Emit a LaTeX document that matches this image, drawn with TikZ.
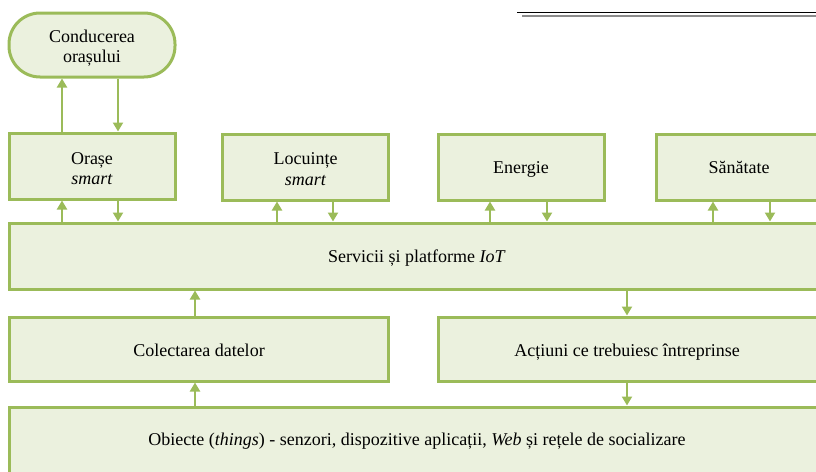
\documentclass[tikz,border=0pt]{standalone}
\usepackage{fontspec}
\setmainfont{Liberation Serif}
\usetikzlibrary{arrows.meta,calc}
\definecolor{boxfill}{HTML}{EBF1DE}
\definecolor{boxline}{HTML}{9BBB59}
\definecolor{rulegray}{HTML}{8C8C8C}
\tikzset{
  box/.style={draw=boxline, fill=boxfill, line width=3pt, inner sep=0pt},
  lbl/.style={inner sep=0pt, align=center, font=\fontsize{18}{20.5}\selectfont},
  arr/.style={draw=boxline, line width=2.2pt, -{Triangle[width=10pt,length=9pt]}},
}
\begin{document}
\begin{tikzpicture}[x=1pt,y=-1pt]
\useasboundingbox (0,0) rectangle (816,471);
\clip (0,0) rectangle (816,471);
% top-right rule
\coordinate (r1a) at (517,12); \coordinate (r1b) at (820,12);
\coordinate (r2a) at (522,15.5); \coordinate (r2b) at (820,15.5);
\draw[black, line width=1pt] (r1a) -- (r1b);
\draw[rulegray, line width=2pt] (r2a) -- (r2b);
% boxes
\node[box, rounded corners=31pt, minimum width=166, minimum height=64] (cond) at (92,45) {};
\node[box, minimum width=166, minimum height=66] (orase) at (92,166) {};
\node[box, minimum width=166, minimum height=66] (locu) at (305.5,167) {};
\node[box, minimum width=166, minimum height=66] (ener) at (521,167) {};
\node[box, minimum width=166, minimum height=66] (sana) at (739,167) {};
\node[box, minimum width=830, minimum height=66] (serv) at (424.5,256) {};
\node[box, minimum width=379, minimum height=64] (colec) at (199,349) {};
\node[box, minimum width=392, minimum height=64] (actiu) at (634.5,349) {};
\node[box, minimum width=830, minimum height=80] (obj) at (424.5,447) {};
% labels
\node[lbl] (condt) at (92,48) {Conducerea\\orașului};
\node[lbl] (oraset) at (92,168.5) {Orașe\\\textit{smart}};
\node[lbl] (locut) at (305.5,169) {Locuințe\\\textit{smart}};
\node[lbl] (enert) at (521,169) {Energie};
\node[lbl] (sanat) at (739,167.5) {Sănătate};
\node[lbl] (servt) at (417,258) {Servicii și platforme \textit{IoT}};
\node[lbl] (colect) at (199,350) {Colectarea datelor};
\node[lbl] (actiut) at (627,352) {Acțiuni ce trebuiesc întreprinse};
\node[lbl] (objt) at (417,441) {Obiecte (\textit{things}) - senzori, dispozitive aplicații, \textit{Web} și rețele de socializare};
% arrows
\draw[arr] ([xshift=-30]orase.north) -- ([xshift=-30]cond.south);
\draw[arr] ([xshift=26]cond.south) -- ([xshift=26]orase.north);
\draw[arr] ([xshift=-30]orase.south |- serv.north) -- ([xshift=-30]orase.south);
\draw[arr] ([xshift=26]orase.south) -- ([xshift=26]orase.south |- serv.north);
\draw[arr] ([xshift=-28.5]locu.south |- serv.north) -- ([xshift=-28.5]locu.south);
\draw[arr] ([xshift=27.5]locu.south) -- ([xshift=27.5]locu.south |- serv.north);
\draw[arr] ([xshift=-31]ener.south |- serv.north) -- ([xshift=-31]ener.south);
\draw[arr] ([xshift=26]ener.south) -- ([xshift=26]ener.south |- serv.north);
\draw[arr] ([xshift=-26]sana.south |- serv.north) -- ([xshift=-26]sana.south);
\draw[arr] ([xshift=31]sana.south) -- ([xshift=31]sana.south |- serv.north);
\draw[arr] ([xshift=-4]colec.north) -- ([xshift=-4]colec.north |- serv.south);
\draw[arr] (actiut.north |- serv.south) -- (actiut.north |- actiu.north);
\draw[arr] ([xshift=-4]colec.south |- obj.north) -- ([xshift=-4]colec.south);
\draw[arr] (actiut.south |- actiu.south) -- (actiut.south |- obj.north);
\end{tikzpicture}
\end{document}
